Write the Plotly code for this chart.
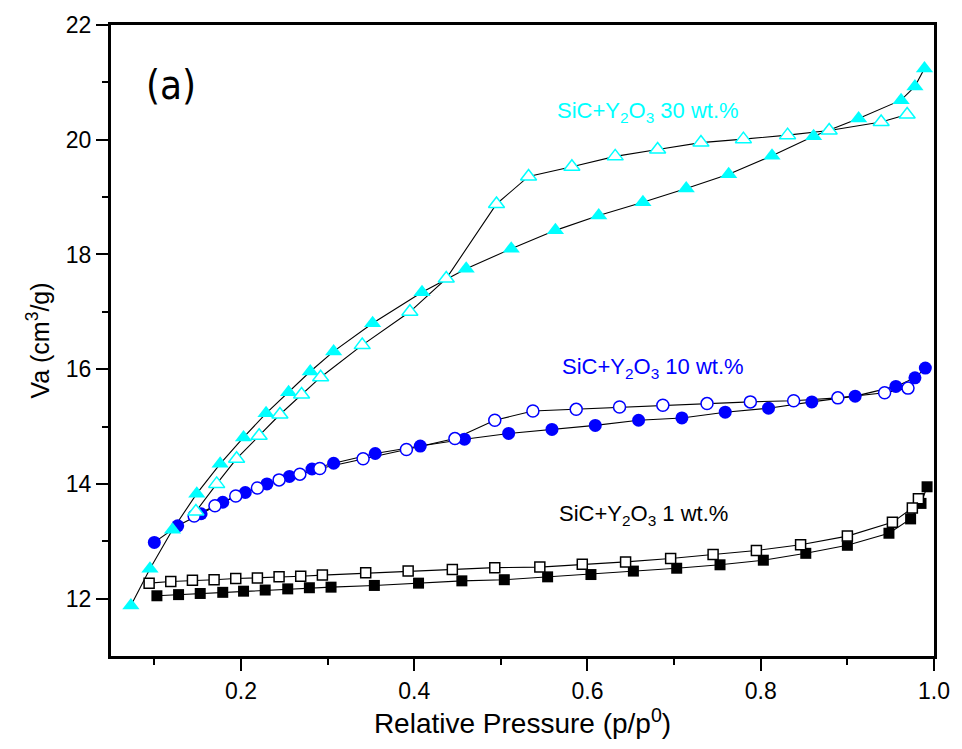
import plotly.graph_objects as go

# SiC + Y2O3 30 wt.% (cyan triangles)
p30_ads = [0.073, 0.095, 0.121, 0.149, 0.176, 0.203, 0.229, 0.255, 0.280, 0.307, 0.352, 0.409,
           0.460, 0.512, 0.563, 0.613, 0.664, 0.714, 0.763, 0.813, 0.861, 0.913, 0.962, 0.978, 0.989]
v30_ads = [11.88, 12.52, 13.20, 13.83, 14.35, 14.81, 15.23, 15.60, 15.96, 16.31, 16.80, 17.34,
           17.75, 18.10, 18.42, 18.68, 18.91, 19.15, 19.40, 19.72, 20.06, 20.37, 20.69, 20.93, 21.24]
p30_des = [0.969, 0.939, 0.879, 0.831, 0.780, 0.731, 0.681, 0.632, 0.582, 0.532, 0.495, 0.437,
           0.395, 0.340, 0.292, 0.270, 0.245, 0.221, 0.195, 0.172, 0.148]
v30_des = [20.44, 20.31, 20.16, 20.08, 20.01, 19.95, 19.83, 19.71, 19.53, 19.36, 18.88, 17.58,
           17.00, 16.42, 15.86, 15.56, 15.21, 14.84, 14.44, 14.00, 13.52]

# SiC + Y2O3 10 wt.% (blue circles)
p10_ads = [0.100, 0.127, 0.154, 0.179, 0.205, 0.230, 0.256, 0.282, 0.307, 0.355, 0.407, 0.458,
           0.509, 0.559, 0.609, 0.659, 0.709, 0.759, 0.809, 0.859, 0.909, 0.956, 0.978, 0.990]
v10_ads = [12.98, 13.27, 13.48, 13.68, 13.85, 14.00, 14.13, 14.26, 14.36, 14.53, 14.66, 14.78,
           14.88, 14.95, 15.02, 15.11, 15.15, 15.25, 15.32, 15.43, 15.53, 15.70, 15.85, 16.02]
p10_des = [0.970, 0.943, 0.889, 0.838, 0.788, 0.738, 0.687, 0.637, 0.587, 0.537, 0.493, 0.447,
           0.391, 0.341, 0.291, 0.268, 0.244, 0.219, 0.194, 0.170, 0.146]
v10_des = [15.67, 15.59, 15.50, 15.45, 15.43, 15.40, 15.37, 15.34, 15.30, 15.27, 15.11, 14.79,
           14.60, 14.44, 14.27, 14.17, 14.07, 13.93, 13.79, 13.62, 13.44]

# SiC + Y2O3 1 wt.% (black squares)
p1_ads = [0.103, 0.128, 0.153, 0.179, 0.203, 0.228, 0.254, 0.279, 0.304, 0.354, 0.405, 0.455,
          0.504, 0.554, 0.604, 0.653, 0.703, 0.753, 0.803, 0.852, 0.900, 0.948, 0.973, 0.985, 0.992]
v1_ads = [12.05, 12.07, 12.09, 12.11, 12.13, 12.15, 12.17, 12.19, 12.20, 12.23, 12.27, 12.31,
          12.33, 12.38, 12.42, 12.48, 12.53, 12.59, 12.67, 12.79, 12.93, 13.14, 13.39, 13.66, 13.95]
p1_des = [0.982, 0.975, 0.952, 0.900, 0.846, 0.795, 0.745, 0.696, 0.644, 0.594, 0.545, 0.493,
          0.444, 0.393, 0.344, 0.294, 0.269, 0.244, 0.219, 0.194, 0.169, 0.144, 0.119, 0.094]
v1_des = [13.74, 13.58, 13.33, 13.09, 12.94, 12.84, 12.77, 12.70, 12.64, 12.60, 12.55, 12.54,
          12.51, 12.48, 12.45, 12.41, 12.39, 12.38, 12.36, 12.35, 12.33, 12.32, 12.30, 12.27]

x_ticks = [0.2, 0.4, 0.6, 0.8, 1.0]
y_ticks = [12, 14, 16, 18, 20, 22]

CYAN = "#00FFFF"
BLUE = "#0000FF"
BLACK = "#000000"
FONT = "Liberation Sans, Arial, sans-serif"

fig = go.Figure()

series = [
    (p1_ads, v1_ads, "square", BLACK, True, 11),
    (p1_des, v1_des, "square", BLACK, False, 11),
    (p10_ads, v10_ads, "circle", BLUE, True, 13),
    (p10_des, v10_des, "circle", BLUE, False, 13),
    (p30_ads, v30_ads, "triangle-up", CYAN, True, 15),
    (p30_des, v30_des, "triangle-up", CYAN, False, 15),
]

# connecting lines first (under markers)
for xs, ys, sym, col, filled, sz in series:
    fig.add_trace(go.Scatter(x=xs, y=ys, mode="lines",
                             line=dict(color="black", width=1.1),
                             hoverinfo="skip", showlegend=False))

for xs, ys, sym, col, filled, sz in series:
    if filled:
        marker = dict(symbol=sym, size=sz, color=col, line=dict(width=0))
    else:
        marker = dict(symbol=sym, size=sz - 1, color="white", line=dict(color=col, width=1.5))
    fig.add_trace(go.Scatter(x=xs, y=ys, mode="markers", marker=marker, showlegend=False))

annotations = [
    dict(x=0.088, y=20.96, text="(a)", color="black", size=40,
         family="Liberation Sans Narrow, Arial Narrow, DejaVu Sans Condensed, sans-serif"),
    dict(x=0.562, y=20.49, text="SiC+Y<sub>2</sub>O<sub>3</sub> 30 wt.%", color=CYAN, size=22, family=FONT),
    dict(x=0.568, y=16.02, text="SiC+Y<sub>2</sub>O<sub>3</sub> 10 wt.%", color=BLUE, size=22, family=FONT),
    dict(x=0.565, y=13.46, text="SiC+Y<sub>2</sub>O<sub>3</sub> 1 wt.%", color=BLACK, size=22, family=FONT),
]
for a in annotations:
    fig.add_annotation(x=a["x"], y=a["y"], xref="x", yref="y", text=a["text"],
                       showarrow=False, xanchor="left", yanchor="middle",
                       font=dict(color=a["color"], size=a["size"], family=a["family"]))

fig.update_xaxes(
    range=[0.05, 1.0], tickvals=x_ticks, ticktext=[f"{v:.1f}" for v in x_ticks],
    ticks="outside", ticklen=12, tickwidth=2, tickcolor="black",
    minor=dict(tickvals=[0.1, 0.3, 0.5, 0.7, 0.9], ticks="outside", ticklen=6, tickwidth=2, tickcolor="black"),
    showline=True, linewidth=3, linecolor="black", mirror=True,
    showgrid=False, zeroline=False,
    tickfont=dict(size=23, family=FONT, color="black"),
    title=dict(text="Relative Pressure (p/p<sup>0</sup>)", font=dict(size=28, family=FONT, color="black"),
               standoff=6),
)
fig.update_yaxes(
    range=[11, 22], tickvals=y_ticks, ticktext=[str(v) for v in y_ticks],
    ticks="outside", ticklen=12, tickwidth=2, tickcolor="black",
    minor=dict(tickvals=[13, 15, 17, 19, 21], ticks="outside", ticklen=6, tickwidth=2, tickcolor="black"),
    showline=True, linewidth=3, linecolor="black", mirror=True,
    showgrid=False, zeroline=False,
    tickfont=dict(size=23, family=FONT, color="black"),
    title=dict(text="Va (cm<sup>3</sup>/g)", font=dict(size=25, family=FONT, color="black"), standoff=10),
)

fig.update_layout(
    width=962, height=749,
    margin=dict(l=111, r=27, t=20, b=93),
    paper_bgcolor="white", plot_bgcolor="white",
    showlegend=False,
)

fig.write_html("out.html")
